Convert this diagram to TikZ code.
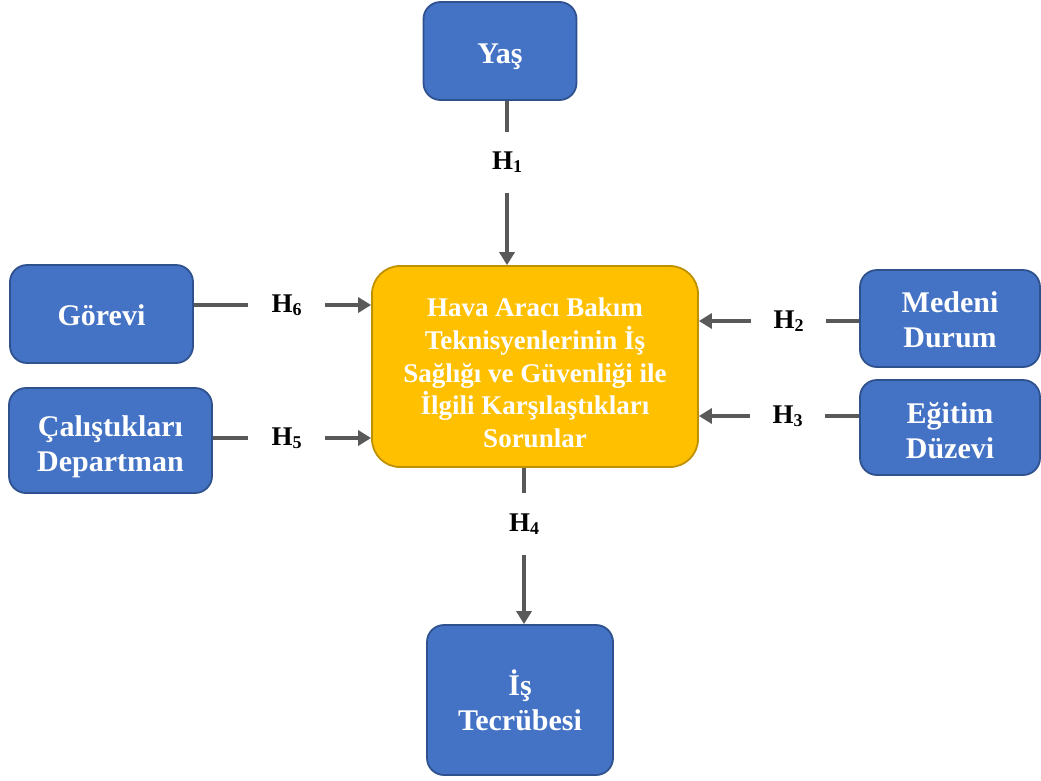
\documentclass[tikz,border=0pt]{standalone}
\usepackage{fontspec}
\setmainfont{Liberation Serif}
\usetikzlibrary{arrows.meta}
\definecolor{boxblue}{HTML}{4472C4}
\definecolor{boxborder}{HTML}{2F528F}
\definecolor{midfill}{HTML}{FFC000}
\definecolor{midborder}{HTML}{BF9000}
\definecolor{conngray}{HTML}{595959}
\newcommand{\lowtext}[2]{\raisebox{-#1}[\height][\depth]{\begin{tabular}{@{}c@{}}#2\end{tabular}}}
\newcommand{\hsub}[1]{H\raisebox{-3pt}{\fontsize{18}{18}\selectfont #1}}
\begin{document}
\begin{tikzpicture}[x=1pt,y=-1pt,
  bluebox/.style={draw=boxborder,fill=boxblue,line width=1.8pt,rounded corners=17pt,
    text=white,font=\fontsize{30}{35}\selectfont\bfseries,inner sep=0pt},
  midbox/.style={draw=midborder,fill=midfill,line width=1.8pt,rounded corners=28pt,
    text=white,font=\fontsize{27}{32.5}\selectfont\bfseries,inner sep=0pt},
  hlabel/.style={font=\fontsize{27}{30}\selectfont\bfseries,inner sep=0pt,text=black},
  conn/.style={draw=conngray,line width=4pt},
  arr/.style={conn,-{Triangle[length=13pt,width=15pt]}}
]
\useasboundingbox (0,0) rectangle (1041,780);
\fill[white] (0,0) rectangle (1041,780);

\node[midbox,minimum width=326pt,minimum height=201pt] (mid) at (535,366.5)
  {\lowtext{9pt}{Hava Aracı Bakım\\Teknisyenlerinin İş\\Sağlığı ve Güvenliği ile\\İlgili Karşılaştıkları\\Sorunlar}};

\node[bluebox,minimum width=153pt,minimum height=98pt] (yas) at (500,51) {\lowtext{5pt}{Yaş}};
\node[bluebox,minimum width=183pt,minimum height=98pt] (gor) at (101.5,314) {\lowtext{4pt}{Görevi}};
\node[bluebox,minimum width=203pt,minimum height=105pt] (cal) at (110.5,440.5) {\lowtext{6pt}{Çalıştıkları\\Departman}};
\node[bluebox,minimum width=180pt,minimum height=97pt] (med) at (950,318.5) {\lowtext{4pt}{Medeni\\Durum}};
\node[bluebox,minimum width=180pt,minimum height=95pt] (egi) at (950,427.5) {\lowtext{6pt}{Eğitim\\Düzevi}};
\node[bluebox,minimum width=186pt,minimum height=150pt] (is) at (520,700) {\lowtext{5pt}{İş\\Tecrübesi}};

\node[hlabel,minimum width=10pt,minimum height=61pt] (h1) at (507,162.5) {\hsub{1}};
\node[hlabel,minimum width=75pt,minimum height=10pt] (h2) at (788.5,321) {\hsub{2}};
\node[hlabel,minimum width=75pt,minimum height=10pt] (h3) at (787.5,416) {\hsub{3}};
\node[hlabel,minimum width=10pt,minimum height=62pt] (h4) at (524,524) {\hsub{4}};
\node[hlabel,minimum width=77pt,minimum height=10pt] (h5) at (286.5,438) {\hsub{5}};
\node[hlabel,minimum width=77pt,minimum height=10pt] (h6) at (286.5,305) {\hsub{6}};

\draw[conn] (yas.south -| h1) -- (h1.north);
\draw[arr] (h1.south) -- (mid.north -| h1);

\draw[conn] (med.west |- h2) -- (h2.east);
\draw[arr] (h2.west) -- (mid.east |- h2);

\draw[conn] (egi.west |- h3) -- (h3.east);
\draw[arr] (h3.west) -- (mid.east |- h3);

\draw[conn] (mid.south -| h4) -- (h4.north);
\draw[arr] (h4.south) -- (is.north -| h4);

\draw[conn] (cal.east |- h5) -- (h5.west);
\draw[arr] (h5.east) -- (mid.west |- h5);

\draw[conn] (gor.east |- h6) -- (h6.west);
\draw[arr] (h6.east) -- (mid.west |- h6);
\end{tikzpicture}
\end{document}
